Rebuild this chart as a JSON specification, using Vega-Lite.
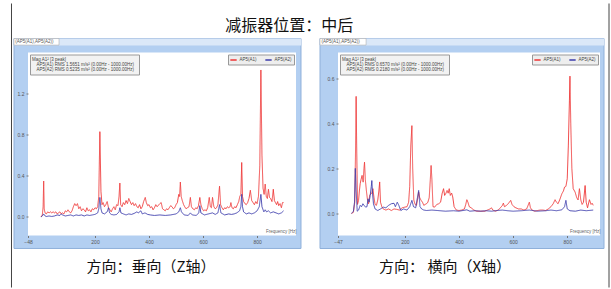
{
"$schema": "https://vega.github.io/schema/vega-lite/v6.json",
"padding": {"left": 10, "top": 2.5, "right": 0, "bottom": 0},
"background": "white",
"title": {"text": "减振器位置：中后", "fontSize": 16, "font": "Noto Sans CJK SC", "fontWeight": "normal", "color": "#111", "anchor": "middle", "dx": -21, "offset": -31},
"config": {
  "font": "Liberation Sans",
  "view": {"stroke": "#8c8c8c", "strokeWidth": 0.8},
  "axis": {"grid": false, "domain": false, "labelFontSize": 5, "labelColor": "#555", "tickColor": "#777", "tickSize": 2, "labelPadding": 2, "labelOverlap": false, "labelFlush": false},
  "legend": {"labelFontSize": 4.5, "labelColor": "#444", "titleFontSize": 4.5, "titleColor": "#444", "titleFontWeight": "normal"}
},
"datasets": {
  "z": [
{"f":0,"v":0,"s":"AP5(A1)"},{"f":5,"v":0.02,"s":"AP5(A1)"},{"f":8,"v":0.1,"s":"AP5(A1)"},{"f":10,"v":0.35,"s":"AP5(A1)"},{"f":12,"v":0.08,"s":"AP5(A1)"},{"f":15,"v":0.04,"s":"AP5(A1)"},{"f":20,"v":0.03,"s":"AP5(A1)"},{"f":25,"v":0.05,"s":"AP5(A1)"},{"f":30,"v":0.04,"s":"AP5(A1)"},{"f":35,"v":0.05,"s":"AP5(A1)"},{"f":40,"v":0.04,"s":"AP5(A1)"},{"f":45,"v":0.05,"s":"AP5(A1)"},{"f":50,"v":0.04,"s":"AP5(A1)"},{"f":55,"v":0.05,"s":"AP5(A1)"},{"f":60,"v":0.03,"s":"AP5(A1)"},{"f":65,"v":0.04,"s":"AP5(A1)"},{"f":70,"v":0.05,"s":"AP5(A1)"},{"f":75,"v":0.03,"s":"AP5(A1)"},{"f":80,"v":0.04,"s":"AP5(A1)"},{"f":85,"v":0.03,"s":"AP5(A1)"},{"f":90,"v":0.06,"s":"AP5(A1)"},{"f":95,"v":0.05,"s":"AP5(A1)"},{"f":100,"v":0.07,"s":"AP5(A1)"},{"f":105,"v":0.05,"s":"AP5(A1)"},{"f":110,"v":0.04,"s":"AP5(A1)"},{"f":115,"v":0.06,"s":"AP5(A1)"},{"f":120,"v":0.1,"s":"AP5(A1)"},{"f":125,"v":0.13,"s":"AP5(A1)"},{"f":130,"v":0.11,"s":"AP5(A1)"},{"f":135,"v":0.13,"s":"AP5(A1)"},{"f":140,"v":0.08,"s":"AP5(A1)"},{"f":145,"v":0.1,"s":"AP5(A1)"},{"f":150,"v":0.06,"s":"AP5(A1)"},{"f":155,"v":0.08,"s":"AP5(A1)"},{"f":160,"v":0.07,"s":"AP5(A1)"},{"f":165,"v":0.05,"s":"AP5(A1)"},{"f":170,"v":0.09,"s":"AP5(A1)"},{"f":175,"v":0.06,"s":"AP5(A1)"},{"f":180,"v":0.07,"s":"AP5(A1)"},{"f":185,"v":0.05,"s":"AP5(A1)"},{"f":190,"v":0.08,"s":"AP5(A1)"},{"f":195,"v":0.07,"s":"AP5(A1)"},{"f":200,"v":0.09,"s":"AP5(A1)"},{"f":205,"v":0.08,"s":"AP5(A1)"},{"f":210,"v":0.1,"s":"AP5(A1)"},{"f":214,"v":0.2,"s":"AP5(A1)"},{"f":218,"v":0.83,"s":"AP5(A1)"},{"f":222,"v":0.25,"s":"AP5(A1)"},{"f":226,"v":0.12,"s":"AP5(A1)"},{"f":230,"v":0.14,"s":"AP5(A1)"},{"f":235,"v":0.1,"s":"AP5(A1)"},{"f":240,"v":0.12,"s":"AP5(A1)"},{"f":245,"v":0.15,"s":"AP5(A1)"},{"f":250,"v":0.09,"s":"AP5(A1)"},{"f":255,"v":0.07,"s":"AP5(A1)"},{"f":260,"v":0.05,"s":"AP5(A1)"},{"f":265,"v":0.08,"s":"AP5(A1)"},{"f":270,"v":0.1,"s":"AP5(A1)"},{"f":275,"v":0.07,"s":"AP5(A1)"},{"f":280,"v":0.12,"s":"AP5(A1)"},{"f":285,"v":0.11,"s":"AP5(A1)"},{"f":289,"v":0.2,"s":"AP5(A1)"},{"f":292,"v":0.33,"s":"AP5(A1)"},{"f":295,"v":0.12,"s":"AP5(A1)"},{"f":300,"v":0.1,"s":"AP5(A1)"},{"f":305,"v":0.14,"s":"AP5(A1)"},{"f":310,"v":0.12,"s":"AP5(A1)"},{"f":315,"v":0.16,"s":"AP5(A1)"},{"f":320,"v":0.13,"s":"AP5(A1)"},{"f":325,"v":0.18,"s":"AP5(A1)"},{"f":330,"v":0.15,"s":"AP5(A1)"},{"f":335,"v":0.12,"s":"AP5(A1)"},{"f":340,"v":0.14,"s":"AP5(A1)"},{"f":345,"v":0.11,"s":"AP5(A1)"},{"f":350,"v":0.13,"s":"AP5(A1)"},{"f":355,"v":0.1,"s":"AP5(A1)"},{"f":360,"v":0.09,"s":"AP5(A1)"},{"f":365,"v":0.12,"s":"AP5(A1)"},{"f":370,"v":0.08,"s":"AP5(A1)"},{"f":375,"v":0.1,"s":"AP5(A1)"},{"f":380,"v":0.15,"s":"AP5(A1)"},{"f":386,"v":0.19,"s":"AP5(A1)"},{"f":390,"v":0.14,"s":"AP5(A1)"},{"f":395,"v":0.11,"s":"AP5(A1)"},{"f":400,"v":0.12,"s":"AP5(A1)"},{"f":405,"v":0.09,"s":"AP5(A1)"},{"f":410,"v":0.1,"s":"AP5(A1)"},{"f":415,"v":0.07,"s":"AP5(A1)"},{"f":420,"v":0.09,"s":"AP5(A1)"},{"f":425,"v":0.12,"s":"AP5(A1)"},{"f":430,"v":0.1,"s":"AP5(A1)"},{"f":440,"v":0.13,"s":"AP5(A1)"},{"f":445,"v":0.14,"s":"AP5(A1)"},{"f":450,"v":0.08,"s":"AP5(A1)"},{"f":455,"v":0.07,"s":"AP5(A1)"},{"f":460,"v":0.06,"s":"AP5(A1)"},{"f":465,"v":0.08,"s":"AP5(A1)"},{"f":470,"v":0.07,"s":"AP5(A1)"},{"f":475,"v":0.09,"s":"AP5(A1)"},{"f":480,"v":0.11,"s":"AP5(A1)"},{"f":485,"v":0.1,"s":"AP5(A1)"},{"f":490,"v":0.08,"s":"AP5(A1)"},{"f":495,"v":0.09,"s":"AP5(A1)"},{"f":500,"v":0.12,"s":"AP5(A1)"},{"f":505,"v":0.14,"s":"AP5(A1)"},{"f":510,"v":0.22,"s":"AP5(A1)"},{"f":513,"v":0.2,"s":"AP5(A1)"},{"f":516,"v":0.34,"s":"AP5(A1)"},{"f":519,"v":0.2,"s":"AP5(A1)"},{"f":523,"v":0.16,"s":"AP5(A1)"},{"f":528,"v":0.12,"s":"AP5(A1)"},{"f":532,"v":0.1,"s":"AP5(A1)"},{"f":537,"v":0.08,"s":"AP5(A1)"},{"f":542,"v":0.09,"s":"AP5(A1)"},{"f":548,"v":0.1,"s":"AP5(A1)"},{"f":553,"v":0.19,"s":"AP5(A1)"},{"f":557,"v":0.1,"s":"AP5(A1)"},{"f":562,"v":0.08,"s":"AP5(A1)"},{"f":568,"v":0.07,"s":"AP5(A1)"},{"f":573,"v":0.09,"s":"AP5(A1)"},{"f":578,"v":0.08,"s":"AP5(A1)"},{"f":583,"v":0.11,"s":"AP5(A1)"},{"f":588,"v":0.19,"s":"AP5(A1)"},{"f":592,"v":0.12,"s":"AP5(A1)"},{"f":597,"v":0.08,"s":"AP5(A1)"},{"f":602,"v":0.06,"s":"AP5(A1)"},{"f":607,"v":0.07,"s":"AP5(A1)"},{"f":612,"v":0.06,"s":"AP5(A1)"},{"f":617,"v":0.09,"s":"AP5(A1)"},{"f":623,"v":0.19,"s":"AP5(A1)"},{"f":627,"v":0.1,"s":"AP5(A1)"},{"f":631,"v":0.09,"s":"AP5(A1)"},{"f":635,"v":0.19,"s":"AP5(A1)"},{"f":640,"v":0.1,"s":"AP5(A1)"},{"f":645,"v":0.08,"s":"AP5(A1)"},{"f":650,"v":0.09,"s":"AP5(A1)"},{"f":655,"v":0.12,"s":"AP5(A1)"},{"f":661,"v":0.3,"s":"AP5(A1)"},{"f":665,"v":0.12,"s":"AP5(A1)"},{"f":670,"v":0.09,"s":"AP5(A1)"},{"f":675,"v":0.07,"s":"AP5(A1)"},{"f":680,"v":0.09,"s":"AP5(A1)"},{"f":685,"v":0.08,"s":"AP5(A1)"},{"f":690,"v":0.1,"s":"AP5(A1)"},{"f":695,"v":0.09,"s":"AP5(A1)"},{"f":700,"v":0.1,"s":"AP5(A1)"},{"f":703,"v":0.14,"s":"AP5(A1)"},{"f":707,"v":0.09,"s":"AP5(A1)"},{"f":712,"v":0.08,"s":"AP5(A1)"},{"f":717,"v":0.1,"s":"AP5(A1)"},{"f":722,"v":0.09,"s":"AP5(A1)"},{"f":727,"v":0.12,"s":"AP5(A1)"},{"f":732,"v":0.15,"s":"AP5(A1)"},{"f":736,"v":0.2,"s":"AP5(A1)"},{"f":740,"v":0.22,"s":"AP5(A1)"},{"f":743,"v":0.53,"s":"AP5(A1)"},{"f":746,"v":0.2,"s":"AP5(A1)"},{"f":750,"v":0.15,"s":"AP5(A1)"},{"f":755,"v":0.13,"s":"AP5(A1)"},{"f":760,"v":0.12,"s":"AP5(A1)"},{"f":765,"v":0.14,"s":"AP5(A1)"},{"f":770,"v":0.18,"s":"AP5(A1)"},{"f":775,"v":0.26,"s":"AP5(A1)"},{"f":780,"v":0.16,"s":"AP5(A1)"},{"f":785,"v":0.14,"s":"AP5(A1)"},{"f":790,"v":0.12,"s":"AP5(A1)"},{"f":795,"v":0.15,"s":"AP5(A1)"},{"f":800,"v":0.13,"s":"AP5(A1)"},{"f":805,"v":0.2,"s":"AP5(A1)"},{"f":810,"v":0.5,"s":"AP5(A1)"},{"f":814,"v":1.43,"s":"AP5(A1)"},{"f":818,"v":0.6,"s":"AP5(A1)"},{"f":822,"v":0.28,"s":"AP5(A1)"},{"f":826,"v":0.22,"s":"AP5(A1)"},{"f":830,"v":0.32,"s":"AP5(A1)"},{"f":834,"v":0.2,"s":"AP5(A1)"},{"f":838,"v":0.18,"s":"AP5(A1)"},{"f":842,"v":0.27,"s":"AP5(A1)"},{"f":846,"v":0.19,"s":"AP5(A1)"},{"f":850,"v":0.18,"s":"AP5(A1)"},{"f":855,"v":0.15,"s":"AP5(A1)"},{"f":860,"v":0.27,"s":"AP5(A1)"},{"f":864,"v":0.16,"s":"AP5(A1)"},{"f":868,"v":0.14,"s":"AP5(A1)"},{"f":872,"v":0.12,"s":"AP5(A1)"},{"f":876,"v":0.15,"s":"AP5(A1)"},{"f":880,"v":0.11,"s":"AP5(A1)"},{"f":885,"v":0.13,"s":"AP5(A1)"},{"f":890,"v":0.09,"s":"AP5(A1)"},{"f":894,"v":0.14,"s":"AP5(A1)"},{"f":898,"v":0.14,"s":"AP5(A1)"},
{"f":0,"v":0,"s":"AP5(A2)"},{"f":5,"v":0.01,"s":"AP5(A2)"},{"f":10,"v":0.03,"s":"AP5(A2)"},{"f":15,"v":0.01,"s":"AP5(A2)"},{"f":20,"v":0.005,"s":"AP5(A2)"},{"f":30,"v":0.01,"s":"AP5(A2)"},{"f":40,"v":0.005,"s":"AP5(A2)"},{"f":50,"v":0.01,"s":"AP5(A2)"},{"f":60,"v":0.02,"s":"AP5(A2)"},{"f":70,"v":0.015,"s":"AP5(A2)"},{"f":75,"v":0.03,"s":"AP5(A2)"},{"f":80,"v":0.02,"s":"AP5(A2)"},{"f":90,"v":0.01,"s":"AP5(A2)"},{"f":100,"v":0.015,"s":"AP5(A2)"},{"f":110,"v":0.02,"s":"AP5(A2)"},{"f":120,"v":0.01,"s":"AP5(A2)"},{"f":130,"v":0.02,"s":"AP5(A2)"},{"f":140,"v":0.015,"s":"AP5(A2)"},{"f":150,"v":0.02,"s":"AP5(A2)"},{"f":160,"v":0.01,"s":"AP5(A2)"},{"f":170,"v":0.02,"s":"AP5(A2)"},{"f":180,"v":0.015,"s":"AP5(A2)"},{"f":190,"v":0.02,"s":"AP5(A2)"},{"f":200,"v":0.025,"s":"AP5(A2)"},{"f":210,"v":0.04,"s":"AP5(A2)"},{"f":214,"v":0.08,"s":"AP5(A2)"},{"f":218,"v":0.19,"s":"AP5(A2)"},{"f":222,"v":0.08,"s":"AP5(A2)"},{"f":226,"v":0.04,"s":"AP5(A2)"},{"f":235,"v":0.03,"s":"AP5(A2)"},{"f":245,"v":0.05,"s":"AP5(A2)"},{"f":250,"v":0.09,"s":"AP5(A2)"},{"f":254,"v":0.04,"s":"AP5(A2)"},{"f":260,"v":0.025,"s":"AP5(A2)"},{"f":270,"v":0.02,"s":"AP5(A2)"},{"f":280,"v":0.025,"s":"AP5(A2)"},{"f":289,"v":0.05,"s":"AP5(A2)"},{"f":292,"v":0.09,"s":"AP5(A2)"},{"f":296,"v":0.04,"s":"AP5(A2)"},{"f":305,"v":0.03,"s":"AP5(A2)"},{"f":315,"v":0.02,"s":"AP5(A2)"},{"f":325,"v":0.03,"s":"AP5(A2)"},{"f":335,"v":0.025,"s":"AP5(A2)"},{"f":345,"v":0.035,"s":"AP5(A2)"},{"f":355,"v":0.05,"s":"AP5(A2)"},{"f":360,"v":0.04,"s":"AP5(A2)"},{"f":370,"v":0.06,"s":"AP5(A2)"},{"f":375,"v":0.03,"s":"AP5(A2)"},{"f":385,"v":0.04,"s":"AP5(A2)"},{"f":395,"v":0.025,"s":"AP5(A2)"},{"f":405,"v":0.02,"s":"AP5(A2)"},{"f":420,"v":0.015,"s":"AP5(A2)"},{"f":440,"v":0.02,"s":"AP5(A2)"},{"f":460,"v":0.015,"s":"AP5(A2)"},{"f":480,"v":0.02,"s":"AP5(A2)"},{"f":500,"v":0.03,"s":"AP5(A2)"},{"f":510,"v":0.05,"s":"AP5(A2)"},{"f":516,"v":0.09,"s":"AP5(A2)"},{"f":520,"v":0.05,"s":"AP5(A2)"},{"f":530,"v":0.02,"s":"AP5(A2)"},{"f":545,"v":0.015,"s":"AP5(A2)"},{"f":553,"v":0.04,"s":"AP5(A2)"},{"f":560,"v":0.02,"s":"AP5(A2)"},{"f":575,"v":0.015,"s":"AP5(A2)"},{"f":584,"v":0.04,"s":"AP5(A2)"},{"f":588,"v":0.11,"s":"AP5(A2)"},{"f":592,"v":0.04,"s":"AP5(A2)"},{"f":605,"v":0.02,"s":"AP5(A2)"},{"f":620,"v":0.03,"s":"AP5(A2)"},{"f":635,"v":0.04,"s":"AP5(A2)"},{"f":645,"v":0.025,"s":"AP5(A2)"},{"f":655,"v":0.04,"s":"AP5(A2)"},{"f":661,"v":0.12,"s":"AP5(A2)"},{"f":666,"v":0.04,"s":"AP5(A2)"},{"f":680,"v":0.02,"s":"AP5(A2)"},{"f":695,"v":0.03,"s":"AP5(A2)"},{"f":705,"v":0.025,"s":"AP5(A2)"},{"f":715,"v":0.03,"s":"AP5(A2)"},{"f":725,"v":0.04,"s":"AP5(A2)"},{"f":735,"v":0.06,"s":"AP5(A2)"},{"f":740,"v":0.1,"s":"AP5(A2)"},{"f":743,"v":0.22,"s":"AP5(A2)"},{"f":746,"v":0.1,"s":"AP5(A2)"},{"f":750,"v":0.05,"s":"AP5(A2)"},{"f":760,"v":0.03,"s":"AP5(A2)"},{"f":770,"v":0.04,"s":"AP5(A2)"},{"f":780,"v":0.03,"s":"AP5(A2)"},{"f":790,"v":0.04,"s":"AP5(A2)"},{"f":800,"v":0.06,"s":"AP5(A2)"},{"f":808,"v":0.1,"s":"AP5(A2)"},{"f":814,"v":0.22,"s":"AP5(A2)"},{"f":818,"v":0.1,"s":"AP5(A2)"},{"f":825,"v":0.05,"s":"AP5(A2)"},{"f":830,"v":0.07,"s":"AP5(A2)"},{"f":835,"v":0.05,"s":"AP5(A2)"},{"f":842,"v":0.06,"s":"AP5(A2)"},{"f":850,"v":0.04,"s":"AP5(A2)"},{"f":860,"v":0.05,"s":"AP5(A2)"},{"f":870,"v":0.04,"s":"AP5(A2)"},{"f":880,"v":0.03,"s":"AP5(A2)"},{"f":890,"v":0.04,"s":"AP5(A2)"},{"f":898,"v":0.06,"s":"AP5(A2)"}
  ],
  "x": [
{"f":3,"v":0,"s":"AP5(A1)"},{"f":10,"v":0.005,"s":"AP5(A1)"},{"f":15,"v":0.05,"s":"AP5(A1)"},{"f":18,"v":0.3,"s":"AP5(A1)"},{"f":20,"v":0.52,"s":"AP5(A1)"},{"f":22,"v":0.3,"s":"AP5(A1)"},{"f":25,"v":0.04,"s":"AP5(A1)"},{"f":29,"v":0.058,"s":"AP5(A1)"},{"f":32,"v":0.1,"s":"AP5(A1)"},{"f":35,"v":0.132,"s":"AP5(A1)"},{"f":38,"v":0.15,"s":"AP5(A1)"},{"f":42,"v":0.169,"s":"AP5(A1)"},{"f":46,"v":0.139,"s":"AP5(A1)"},{"f":49,"v":0.2,"s":"AP5(A1)"},{"f":51,"v":0.228,"s":"AP5(A1)"},{"f":54,"v":0.15,"s":"AP5(A1)"},{"f":58,"v":0.1,"s":"AP5(A1)"},{"f":62,"v":0.06,"s":"AP5(A1)"},{"f":66,"v":0.043,"s":"AP5(A1)"},{"f":70,"v":0.08,"s":"AP5(A1)"},{"f":74,"v":0.087,"s":"AP5(A1)"},{"f":78,"v":0.09,"s":"AP5(A1)"},{"f":82,"v":0.11,"s":"AP5(A1)"},{"f":86,"v":0.07,"s":"AP5(A1)"},{"f":90,"v":0.04,"s":"AP5(A1)"},{"f":95,"v":0.036,"s":"AP5(A1)"},{"f":100,"v":0.06,"s":"AP5(A1)"},{"f":104,"v":0.1,"s":"AP5(A1)"},{"f":107,"v":0.14,"s":"AP5(A1)"},{"f":110,"v":0.05,"s":"AP5(A1)"},{"f":115,"v":0.03,"s":"AP5(A1)"},{"f":120,"v":0.02,"s":"AP5(A1)"},{"f":130,"v":0.015,"s":"AP5(A1)"},{"f":140,"v":0.02,"s":"AP5(A1)"},{"f":150,"v":0.013,"s":"AP5(A1)"},{"f":160,"v":0.02,"s":"AP5(A1)"},{"f":170,"v":0.018,"s":"AP5(A1)"},{"f":180,"v":0.015,"s":"AP5(A1)"},{"f":190,"v":0.025,"s":"AP5(A1)"},{"f":200,"v":0.028,"s":"AP5(A1)"},{"f":208,"v":0.03,"s":"AP5(A1)"},{"f":214,"v":0.05,"s":"AP5(A1)"},{"f":218,"v":0.12,"s":"AP5(A1)"},{"f":222,"v":0.3,"s":"AP5(A1)"},{"f":226,"v":0.39,"s":"AP5(A1)"},{"f":229,"v":0.2,"s":"AP5(A1)"},{"f":233,"v":0.06,"s":"AP5(A1)"},{"f":238,"v":0.04,"s":"AP5(A1)"},{"f":243,"v":0.036,"s":"AP5(A1)"},{"f":248,"v":0.07,"s":"AP5(A1)"},{"f":251,"v":0.095,"s":"AP5(A1)"},{"f":255,"v":0.07,"s":"AP5(A1)"},{"f":260,"v":0.058,"s":"AP5(A1)"},{"f":265,"v":0.05,"s":"AP5(A1)"},{"f":270,"v":0.036,"s":"AP5(A1)"},{"f":275,"v":0.04,"s":"AP5(A1)"},{"f":280,"v":0.043,"s":"AP5(A1)"},{"f":285,"v":0.05,"s":"AP5(A1)"},{"f":290,"v":0.07,"s":"AP5(A1)"},{"f":294,"v":0.15,"s":"AP5(A1)"},{"f":297,"v":0.213,"s":"AP5(A1)"},{"f":300,"v":0.15,"s":"AP5(A1)"},{"f":304,"v":0.03,"s":"AP5(A1)"},{"f":310,"v":0.028,"s":"AP5(A1)"},{"f":318,"v":0.04,"s":"AP5(A1)"},{"f":325,"v":0.043,"s":"AP5(A1)"},{"f":332,"v":0.05,"s":"AP5(A1)"},{"f":338,"v":0.09,"s":"AP5(A1)"},{"f":343,"v":0.11,"s":"AP5(A1)"},{"f":347,"v":0.08,"s":"AP5(A1)"},{"f":352,"v":0.09,"s":"AP5(A1)"},{"f":356,"v":0.102,"s":"AP5(A1)"},{"f":360,"v":0.09,"s":"AP5(A1)"},{"f":364,"v":0.11,"s":"AP5(A1)"},{"f":368,"v":0.08,"s":"AP5(A1)"},{"f":373,"v":0.09,"s":"AP5(A1)"},{"f":377,"v":0.073,"s":"AP5(A1)"},{"f":382,"v":0.03,"s":"AP5(A1)"},{"f":390,"v":0.015,"s":"AP5(A1)"},{"f":400,"v":0.013,"s":"AP5(A1)"},{"f":410,"v":0.015,"s":"AP5(A1)"},{"f":420,"v":0.02,"s":"AP5(A1)"},{"f":425,"v":0.04,"s":"AP5(A1)"},{"f":429,"v":0.061,"s":"AP5(A1)"},{"f":433,"v":0.05,"s":"AP5(A1)"},{"f":438,"v":0.03,"s":"AP5(A1)"},{"f":445,"v":0.025,"s":"AP5(A1)"},{"f":455,"v":0.015,"s":"AP5(A1)"},{"f":465,"v":0.01,"s":"AP5(A1)"},{"f":480,"v":0.01,"s":"AP5(A1)"},{"f":495,"v":0.01,"s":"AP5(A1)"},{"f":505,"v":0.015,"s":"AP5(A1)"},{"f":515,"v":0.02,"s":"AP5(A1)"},{"f":520,"v":0.025,"s":"AP5(A1)"},{"f":525,"v":0.015,"s":"AP5(A1)"},{"f":535,"v":0.01,"s":"AP5(A1)"},{"f":545,"v":0.015,"s":"AP5(A1)"},{"f":555,"v":0.028,"s":"AP5(A1)"},{"f":560,"v":0.035,"s":"AP5(A1)"},{"f":564,"v":0.046,"s":"AP5(A1)"},{"f":568,"v":0.03,"s":"AP5(A1)"},{"f":575,"v":0.035,"s":"AP5(A1)"},{"f":583,"v":0.045,"s":"AP5(A1)"},{"f":591,"v":0.058,"s":"AP5(A1)"},{"f":596,"v":0.04,"s":"AP5(A1)"},{"f":603,"v":0.03,"s":"AP5(A1)"},{"f":610,"v":0.025,"s":"AP5(A1)"},{"f":620,"v":0.02,"s":"AP5(A1)"},{"f":630,"v":0.02,"s":"AP5(A1)"},{"f":640,"v":0.015,"s":"AP5(A1)"},{"f":650,"v":0.02,"s":"AP5(A1)"},{"f":655,"v":0.035,"s":"AP5(A1)"},{"f":660,"v":0.05,"s":"AP5(A1)"},{"f":664,"v":0.025,"s":"AP5(A1)"},{"f":670,"v":0.015,"s":"AP5(A1)"},{"f":680,"v":0.01,"s":"AP5(A1)"},{"f":690,"v":0.013,"s":"AP5(A1)"},{"f":700,"v":0.015,"s":"AP5(A1)"},{"f":710,"v":0.015,"s":"AP5(A1)"},{"f":720,"v":0.013,"s":"AP5(A1)"},{"f":730,"v":0.02,"s":"AP5(A1)"},{"f":740,"v":0.03,"s":"AP5(A1)"},{"f":748,"v":0.043,"s":"AP5(A1)"},{"f":755,"v":0.061,"s":"AP5(A1)"},{"f":760,"v":0.05,"s":"AP5(A1)"},{"f":766,"v":0.043,"s":"AP5(A1)"},{"f":772,"v":0.06,"s":"AP5(A1)"},{"f":780,"v":0.087,"s":"AP5(A1)"},{"f":786,"v":0.1,"s":"AP5(A1)"},{"f":790,"v":0.117,"s":"AP5(A1)"},{"f":795,"v":0.12,"s":"AP5(A1)"},{"f":800,"v":0.154,"s":"AP5(A1)"},{"f":804,"v":0.3,"s":"AP5(A1)"},{"f":808,"v":0.5,"s":"AP5(A1)"},{"f":810,"v":0.61,"s":"AP5(A1)"},{"f":813,"v":0.4,"s":"AP5(A1)"},{"f":817,"v":0.2,"s":"AP5(A1)"},{"f":822,"v":0.11,"s":"AP5(A1)"},{"f":829,"v":0.095,"s":"AP5(A1)"},{"f":835,"v":0.07,"s":"AP5(A1)"},{"f":840,"v":0.06,"s":"AP5(A1)"},{"f":845,"v":0.11,"s":"AP5(A1)"},{"f":850,"v":0.06,"s":"AP5(A1)"},{"f":855,"v":0.04,"s":"AP5(A1)"},{"f":860,"v":0.05,"s":"AP5(A1)"},{"f":866,"v":0.124,"s":"AP5(A1)"},{"f":870,"v":0.05,"s":"AP5(A1)"},{"f":875,"v":0.025,"s":"AP5(A1)"},{"f":882,"v":0.061,"s":"AP5(A1)"},{"f":888,"v":0.04,"s":"AP5(A1)"},{"f":892,"v":0.045,"s":"AP5(A1)"},{"f":896,"v":0.036,"s":"AP5(A1)"},
{"f":3,"v":0,"s":"AP5(A2)"},{"f":10,"v":0.01,"s":"AP5(A2)"},{"f":14,"v":0.05,"s":"AP5(A2)"},{"f":17,"v":0.2,"s":"AP5(A2)"},{"f":20,"v":0.1,"s":"AP5(A2)"},{"f":24,"v":0.01,"s":"AP5(A2)"},{"f":29,"v":0.015,"s":"AP5(A2)"},{"f":35,"v":0.036,"s":"AP5(A2)"},{"f":40,"v":0.03,"s":"AP5(A2)"},{"f":45,"v":0.043,"s":"AP5(A2)"},{"f":50,"v":0.035,"s":"AP5(A2)"},{"f":55,"v":0.028,"s":"AP5(A2)"},{"f":60,"v":0.03,"s":"AP5(A2)"},{"f":64,"v":0.065,"s":"AP5(A2)"},{"f":68,"v":0.05,"s":"AP5(A2)"},{"f":72,"v":0.08,"s":"AP5(A2)"},{"f":76,"v":0.12,"s":"AP5(A2)"},{"f":78,"v":0.146,"s":"AP5(A2)"},{"f":80,"v":0.1,"s":"AP5(A2)"},{"f":84,"v":0.043,"s":"AP5(A2)"},{"f":90,"v":0.02,"s":"AP5(A2)"},{"f":100,"v":0.013,"s":"AP5(A2)"},{"f":110,"v":0.02,"s":"AP5(A2)"},{"f":120,"v":0.028,"s":"AP5(A2)"},{"f":130,"v":0.025,"s":"AP5(A2)"},{"f":140,"v":0.036,"s":"AP5(A2)"},{"f":150,"v":0.043,"s":"AP5(A2)"},{"f":160,"v":0.045,"s":"AP5(A2)"},{"f":165,"v":0.03,"s":"AP5(A2)"},{"f":172,"v":0.05,"s":"AP5(A2)"},{"f":178,"v":0.035,"s":"AP5(A2)"},{"f":185,"v":0.013,"s":"AP5(A2)"},{"f":195,"v":0.02,"s":"AP5(A2)"},{"f":208,"v":0.015,"s":"AP5(A2)"},{"f":218,"v":0.03,"s":"AP5(A2)"},{"f":226,"v":0.058,"s":"AP5(A2)"},{"f":232,"v":0.03,"s":"AP5(A2)"},{"f":240,"v":0.025,"s":"AP5(A2)"},{"f":251,"v":0.102,"s":"AP5(A2)"},{"f":256,"v":0.03,"s":"AP5(A2)"},{"f":262,"v":0.02,"s":"AP5(A2)"},{"f":270,"v":0.015,"s":"AP5(A2)"},{"f":280,"v":0.013,"s":"AP5(A2)"},{"f":300,"v":0.015,"s":"AP5(A2)"},{"f":320,"v":0.013,"s":"AP5(A2)"},{"f":350,"v":0.01,"s":"AP5(A2)"},{"f":380,"v":0.012,"s":"AP5(A2)"},{"f":400,"v":0.01,"s":"AP5(A2)"},{"f":429,"v":0.016,"s":"AP5(A2)"},{"f":440,"v":0.01,"s":"AP5(A2)"},{"f":460,"v":0.012,"s":"AP5(A2)"},{"f":480,"v":0.01,"s":"AP5(A2)"},{"f":500,"v":0.012,"s":"AP5(A2)"},{"f":520,"v":0.01,"s":"AP5(A2)"},{"f":540,"v":0.013,"s":"AP5(A2)"},{"f":560,"v":0.015,"s":"AP5(A2)"},{"f":580,"v":0.012,"s":"AP5(A2)"},{"f":600,"v":0.01,"s":"AP5(A2)"},{"f":630,"v":0.012,"s":"AP5(A2)"},{"f":660,"v":0.015,"s":"AP5(A2)"},{"f":690,"v":0.01,"s":"AP5(A2)"},{"f":720,"v":0.012,"s":"AP5(A2)"},{"f":740,"v":0.015,"s":"AP5(A2)"},{"f":760,"v":0.012,"s":"AP5(A2)"},{"f":780,"v":0.016,"s":"AP5(A2)"},{"f":790,"v":0.03,"s":"AP5(A2)"},{"f":795,"v":0.058,"s":"AP5(A2)"},{"f":800,"v":0.02,"s":"AP5(A2)"},{"f":810,"v":0.012,"s":"AP5(A2)"},{"f":830,"v":0.01,"s":"AP5(A2)"},{"f":850,"v":0.015,"s":"AP5(A2)"},{"f":870,"v":0.012,"s":"AP5(A2)"},{"f":896,"v":0.015,"s":"AP5(A2)"}
  ],
  "zr": [{"s":"AP5(A1)","r":"AP5(A1) RMS 1.5651 m/s²   (0.00Hz - 1000.00Hz)"},{"s":"AP5(A2)","r":"AP5(A2) RMS 0.5235 m/s²   (0.00Hz - 1000.00Hz)"}],
  "xr": [{"s":"AP5(A1)","r":"AP5(A1) RMS 0.6570 m/s²   (0.00Hz - 1000.00Hz)"},{"s":"AP5(A2)","r":"AP5(A2) RMS 0.2180 m/s²   (0.00Hz - 1000.00Hz)"}]
},
"spacing": 17,
"resolve": {"scale": {"x": "independent", "y": "independent", "color": "independent", "strokeDash": "independent"}, "legend": {"color": "independent", "strokeDash": "independent"}},
"hconcat": [
{
  "width": 268, "height": 183,
  "title": {"text": "方向：垂向（Z轴）", "orient": "bottom", "anchor": "middle", "frame": "group", "dx": -11, "offset": -28, "fontSize": 15, "font": "Noto Sans CJK SC", "fontWeight": "normal", "color": "#111"},
  "layer": [
    {"data": {"values": [{}]}, "mark": {"type": "rect", "clip": false, "fill": "#b3cff1", "stroke": "#8fb0da", "strokeWidth": 1},
     "encoding": {
       "x": {"datum": -99.8, "type": "quantitative", "scale": {"domain": [-48, 944], "nice": false, "zero": false},
             "axis": {"zindex": 2, "values": [-48, 100, 200, 300, 400, 500, 600, 700, 800, 944], "title": "Frequency [Hz]", "titleFontSize": 4.5, "titleFontWeight": "normal", "titleColor": "#666", "titleAnchor": "end", "titleAlign": "right", "titleY": -2, "titleBaseline": "bottom"}},
       "x2": {"datum": 962.5},
       "y": {"datum": 1.736, "type": "quantitative", "scale": {"domain": [-0.18, 1.6], "nice": false, "zero": false},
             "axis": {"zindex": 2, "values": [0, 0.2, 0.4, 0.6, 0.8, 1.0, 1.2, 1.4], "format": ".1f", "title": null}},
       "y2": {"datum": -0.306}}},
    {"data": {"values": [{}]}, "mark": {"type": "rect", "clip": false, "fill": "#dbe8f8"},
     "encoding": {"x": {"datum": -99.8, "type": "quantitative"}, "x2": {"datum": 962.5}, "y": {"datum": 1.736, "type": "quantitative"}, "y2": {"datum": 1.668}}},
    {"data": {"values": [{}]}, "mark": {"type": "rect", "clip": false, "fill": "#ffffff", "stroke": "#a0a0a0", "strokeWidth": 0.5},
     "encoding": {"x": {"datum": -99.8, "type": "quantitative"}, "x2": {"datum": 66.7}, "y": {"datum": 1.736, "type": "quantitative"}, "y2": {"datum": 1.672}}},
    {"data": {"values": [{}]}, "mark": {"type": "text", "clip": false, "align": "left", "baseline": "middle", "fontSize": 4.5, "color": "#555", "text": "(AP5(A1),AP5(A2))"},
     "encoding": {"x": {"datum": -95, "type": "quantitative"}, "y": {"datum": 1.704, "type": "quantitative"}}},
    {"data": {"values": [{}]}, "mark": {"type": "rect", "clip": false, "fill": "#ffffff"},
     "encoding": {"x": {"datum": -48, "type": "quantitative"}, "x2": {"datum": 944}, "y": {"datum": 1.6, "type": "quantitative"}, "y2": {"datum": -0.18}}},
    {"data": {"values": [{}]}, "mark": {"type": "rule", "clip": false, "color": "#444", "strokeWidth": 1},
     "encoding": {"x": {"datum": -109.1, "type": "quantitative"}, "y": {"datum": 2.0766, "type": "quantitative"}, "y2": {"datum": -0.6858}}},
    {"data": {"name": "z"},
     "transform": [{"lookup": "s", "from": {"data": {"name": "zr"}, "key": "s", "fields": ["r"]}}],
     "mark": {"type": "line", "strokeWidth": 0.9, "clip": true},
     "encoding": {
       "x": {"field": "f", "type": "quantitative"},
       "y": {"field": "v", "type": "quantitative"},
       "color": {"field": "s", "type": "nominal", "scale": {"domain": ["AP5(A1)", "AP5(A2)"], "range": ["#ee3535", "#3b3bab"]},
                 "legend": {"orient": "top-right", "direction": "horizontal", "title": null, "symbolType": "stroke", "symbolSize": 40, "symbolStrokeWidth": 1.5, "strokeColor": "#999", "fillColor": "#eeeeee", "padding": 1.5, "offset": 2, "columnPadding": 4, "labelOffset": 2}},
       "strokeDash": {"field": "r", "type": "nominal", "scale": {"range": [[1, 0], [1, 0]]},
                 "legend": {"orient": "top-left", "direction": "vertical", "title": "Mag A1² [3 peak]", "symbolOpacity": 0, "symbolSize": 1, "symbolStrokeWidth": 0, "labelOffset": 0, "strokeColor": "#999", "fillColor": "#f2f2f2", "padding": 2, "offset": 2, "rowPadding": 0, "titlePadding": 2}}
     }}
  ]
},
{
  "width": 262, "height": 183,
  "title": {"text": "方向： 横向（X轴）", "orient": "bottom", "anchor": "middle", "frame": "group", "dx": -24, "offset": -28, "fontSize": 15, "font": "Noto Sans CJK SC", "fontWeight": "normal", "color": "#111"},
  "layer": [
    {"data": {"values": [{}]}, "mark": {"type": "rect", "clip": false, "fill": "#b3cff1", "stroke": "#8fb0da", "strokeWidth": 1},
     "encoding": {
       "x": {"datum": -113.5, "type": "quantitative", "scale": {"domain": [-47, 921], "nice": false, "zero": false},
             "axis": {"zindex": 2, "values": [-47, 100, 200, 300, 400, 500, 600, 700, 800, 921], "title": "Frequency [Hz]", "titleFontSize": 4.5, "titleFontWeight": "normal", "titleColor": "#666", "titleAnchor": "end", "titleAlign": "right", "titleY": -2, "titleBaseline": "bottom"}},
       "x2": {"datum": 935.8},
       "y": {"datum": 0.7772, "type": "quantitative", "scale": {"domain": [-0.098, 0.715], "nice": false, "zero": false},
             "axis": {"zindex": 2, "values": [0, 0.1, 0.2, 0.3, 0.4, 0.5, 0.6], "format": ".1f", "title": null}},
       "y2": {"datum": -0.1558}}},
    {"data": {"values": [{}]}, "mark": {"type": "rect", "clip": false, "fill": "#dbe8f8"},
     "encoding": {"x": {"datum": -113.5, "type": "quantitative"}, "x2": {"datum": 935.8}, "y": {"datum": 0.7772, "type": "quantitative"}, "y2": {"datum": 0.746}}},
    {"data": {"values": [{}]}, "mark": {"type": "rect", "clip": false, "fill": "#ffffff", "stroke": "#a0a0a0", "strokeWidth": 0.5},
     "encoding": {"x": {"datum": -113.5, "type": "quantitative"}, "x2": {"datum": 56.7}, "y": {"datum": 0.7772, "type": "quantitative"}, "y2": {"datum": 0.748}}},
    {"data": {"values": [{}]}, "mark": {"type": "text", "clip": false, "align": "left", "baseline": "middle", "fontSize": 4.5, "color": "#555", "text": "(AP5(A1),AP5(A2))"},
     "encoding": {"x": {"datum": -108, "type": "quantitative"}, "y": {"datum": 0.762, "type": "quantitative"}}},
    {"data": {"values": [{}]}, "mark": {"type": "rect", "clip": false, "fill": "#ffffff"},
     "encoding": {"x": {"datum": -47, "type": "quantitative"}, "x2": {"datum": 921}, "y": {"datum": 0.715, "type": "quantitative"}, "y2": {"datum": -0.098}}},
    {"data": {"values": [{}]}, "mark": {"type": "rule", "clip": false, "color": "#444", "strokeWidth": 1},
     "encoding": {"x": {"datum": 954.3, "type": "quantitative"}, "y": {"datum": 0.9327, "type": "quantitative"}, "y2": {"datum": -0.329}}},
    {"data": {"name": "x"},
     "transform": [{"lookup": "s", "from": {"data": {"name": "xr"}, "key": "s", "fields": ["r"]}}],
     "mark": {"type": "line", "strokeWidth": 0.9, "clip": true},
     "encoding": {
       "x": {"field": "f", "type": "quantitative"},
       "y": {"field": "v", "type": "quantitative"},
       "color": {"field": "s", "type": "nominal", "scale": {"domain": ["AP5(A1)", "AP5(A2)"], "range": ["#ee3535", "#3b3bab"]},
                 "legend": {"orient": "top-right", "direction": "horizontal", "title": null, "symbolType": "stroke", "symbolSize": 40, "symbolStrokeWidth": 1.5, "strokeColor": "#999", "fillColor": "#eeeeee", "padding": 1.5, "offset": 2, "columnPadding": 4, "labelOffset": 2}},
       "strokeDash": {"field": "r", "type": "nominal", "scale": {"range": [[1, 0], [1, 0]]},
                 "legend": {"orient": "top-left", "direction": "vertical", "title": "Mag A1² [3 peak]", "symbolOpacity": 0, "symbolSize": 1, "symbolStrokeWidth": 0, "labelOffset": 0, "strokeColor": "#999", "fillColor": "#f2f2f2", "padding": 2, "offset": 2, "rowPadding": 0, "titlePadding": 2}}
     }}
  ]
}
]
}
